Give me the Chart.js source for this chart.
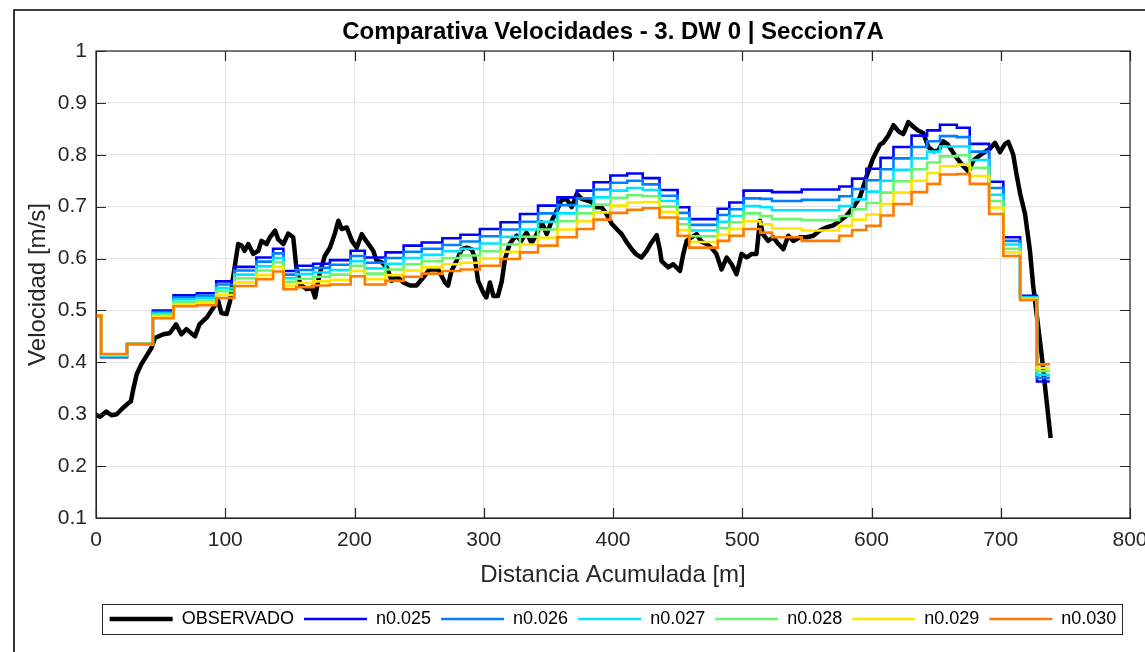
<!DOCTYPE html>
<html>
<head>
<meta charset="utf-8">
<script src="https://cdn.jsdelivr.net/npm/chart.js@4.4.1/dist/chart.umd.min.js"></script>
<style>
  html, body { margin: 0; padding: 0; background: #fff; }
  #wrap { width: 1145px; height: 652px; }
</style>
</head>
<body>
<div id="wrap"><canvas id="myChart" width="1145" height="652"></canvas></div>
<script>
// OBSERVED VELOCITY (black line)
const obsDist = [0, 3, 8, 12, 16, 20, 24, 27, 29, 31.5, 35, 39, 43, 45.6, 52, 57, 62, 66, 70, 76.6,
  80, 85.6, 90.7, 94.6, 97, 101, 103.7, 106, 110, 112.7, 115, 117.8, 121.7, 125.6, 128, 132, 134.6, 138.5,
  141, 145, 148.7, 152.6, 155, 158, 163, 167, 169.5, 173, 177, 181, 185, 187.5, 190, 194, 198, 201.7,
  205.6, 209, 214.5, 217, 221, 225, 228.8, 232.6, 237.7, 243, 248, 253, 258, 264.8, 270, 272.4, 275,
  279, 283, 286.7, 290.6, 293, 295.6, 299.7, 302, 304.8, 307.4, 311, 314, 316.4, 320, 322.9, 325.5,
  329, 333, 337, 341, 344.8, 348.7, 352.6, 356.5, 360, 364, 368, 372, 375.8, 379.6, 383.5, 387, 391,
  395, 399, 402.8, 406.7, 410.5, 414.5, 418, 422, 426, 429, 433.8, 436, 437.6, 442.7, 446.6, 451.8,
  454.4, 457, 460.9, 464.7, 468.6, 472.5, 476, 480, 484, 488, 491.8, 495.6, 499.5, 503.4, 507.3, 511,
  513.7, 516, 520, 524, 528, 531.8, 535.6, 539.5, 544.7, 549.8, 555, 560, 565, 570.5, 575.6, 580.8,
  586, 591, 596, 601, 606.6, 609, 613, 617, 621, 624.6, 628.5, 632, 636, 640, 644, 647.8, 651.7,
  655.5, 659, 665.6, 671, 675, 678.8, 685.5, 691.7, 695.6, 699.4, 703.3, 705.8, 709.7, 712, 715,
  718.8, 722.6, 725, 727.8, 731.6, 735.5, 738.6];
const obsVel = [0.299, 0.295, 0.305, 0.298, 0.300, 0.310, 0.319, 0.325, 0.350, 0.377, 0.396, 0.412, 0.428, 0.447, 0.454, 0.456, 0.473, 0.454, 0.464, 0.450,
  0.473, 0.486, 0.505, 0.518, 0.495, 0.493, 0.518, 0.563, 0.628, 0.625, 0.615, 0.628, 0.609, 0.615, 0.634, 0.628, 0.641, 0.654,
  0.637, 0.628, 0.648, 0.641, 0.583, 0.550, 0.541, 0.544, 0.525, 0.570, 0.605, 0.621, 0.650, 0.673, 0.657, 0.660, 0.634, 0.621,
  0.647, 0.634, 0.615, 0.596, 0.593, 0.583, 0.557, 0.566, 0.554, 0.548, 0.548, 0.563, 0.579, 0.579, 0.554, 0.548, 0.576,
  0.596, 0.618, 0.621, 0.618, 0.602, 0.557, 0.534, 0.525, 0.554, 0.528, 0.528, 0.557, 0.599, 0.628, 0.638, 0.644,
  0.634, 0.650, 0.630, 0.647, 0.670, 0.647, 0.673, 0.692, 0.712, 0.715, 0.699, 0.725, 0.715, 0.712, 0.709, 0.699, 0.699,
  0.686, 0.667, 0.657, 0.647, 0.632, 0.618, 0.608, 0.602, 0.615, 0.628, 0.645, 0.620, 0.595, 0.583, 0.589, 0.576,
  0.609, 0.634, 0.641, 0.647, 0.632, 0.628, 0.621, 0.609, 0.579, 0.602, 0.589, 0.570, 0.609, 0.602, 0.609, 0.609,
  0.673, 0.647, 0.634, 0.641, 0.628, 0.618, 0.644, 0.634, 0.641, 0.641, 0.644, 0.654, 0.660, 0.664, 0.673, 0.683,
  0.699, 0.718, 0.757, 0.792, 0.820, 0.823, 0.837, 0.857, 0.845, 0.840, 0.863, 0.855, 0.847, 0.842, 0.815, 0.807, 0.808,
  0.826, 0.820, 0.795, 0.778, 0.768, 0.789, 0.802, 0.812, 0.823, 0.805, 0.821, 0.825, 0.800, 0.765, 0.725,
  0.686, 0.615, 0.550, 0.492, 0.415, 0.325, 0.254];

// MODEL RUNS (stepped, one value per reach starting at stepDist)
const stepDist = [0, 4, 24, 44, 60, 78, 93, 107, 124, 137, 145, 155, 168, 181, 197, 208, 224, 238, 252, 268,
  282, 297, 313, 328, 342, 357, 372, 385, 398, 411, 423, 436, 450, 459, 481, 490, 501, 514, 523, 546,
  575, 585, 596, 607, 617, 631, 643, 653, 666, 676, 691, 702, 715, 728, 738];
const velN025 = [0.488, 0.410, 0.435, 0.500, 0.529, 0.533, 0.556, 0.584, 0.602, 0.619, 0.576, 0.586, 0.590, 0.597, 0.615, 0.602, 0.612, 0.625, 0.631, 0.639,
  0.646, 0.657, 0.670, 0.686, 0.702, 0.718, 0.731, 0.747, 0.760, 0.764, 0.755, 0.732, 0.699, 0.676, 0.696, 0.708, 0.731, 0.731, 0.728, 0.733,
  0.739, 0.754, 0.773, 0.794, 0.815, 0.837, 0.847, 0.858, 0.852, 0.821, 0.748, 0.641, 0.528, 0.363, 0.363];
const velN026 = [0.488, 0.411, 0.435, 0.497, 0.525, 0.528, 0.550, 0.577, 0.594, 0.610, 0.569, 0.578, 0.582, 0.588, 0.605, 0.592, 0.601, 0.613, 0.619, 0.626,
  0.633, 0.643, 0.656, 0.671, 0.687, 0.703, 0.716, 0.733, 0.746, 0.750, 0.743, 0.721, 0.688, 0.665, 0.684, 0.695, 0.716, 0.715, 0.711, 0.713,
  0.720, 0.734, 0.751, 0.772, 0.793, 0.815, 0.826, 0.836, 0.834, 0.806, 0.736, 0.634, 0.526, 0.370, 0.370];
const velN027 = [0.489, 0.413, 0.435, 0.494, 0.521, 0.524, 0.543, 0.569, 0.585, 0.601, 0.562, 0.570, 0.573, 0.578, 0.595, 0.581, 0.590, 0.601, 0.607, 0.614,
  0.619, 0.629, 0.642, 0.656, 0.671, 0.687, 0.701, 0.718, 0.731, 0.736, 0.732, 0.711, 0.677, 0.654, 0.671, 0.682, 0.701, 0.699, 0.693, 0.693,
  0.701, 0.714, 0.729, 0.750, 0.771, 0.793, 0.806, 0.816, 0.816, 0.790, 0.723, 0.627, 0.525, 0.376, 0.376];
const velN028 = [0.489, 0.414, 0.435, 0.491, 0.516, 0.519, 0.537, 0.562, 0.577, 0.593, 0.555, 0.561, 0.565, 0.569, 0.586, 0.571, 0.579, 0.589, 0.595, 0.601,
  0.606, 0.614, 0.627, 0.642, 0.656, 0.672, 0.687, 0.704, 0.717, 0.722, 0.720, 0.700, 0.666, 0.643, 0.659, 0.670, 0.687, 0.682, 0.676, 0.674,
  0.682, 0.695, 0.707, 0.727, 0.749, 0.772, 0.785, 0.797, 0.799, 0.775, 0.711, 0.619, 0.523, 0.383, 0.383];
const velN029 = [0.490, 0.415, 0.435, 0.488, 0.512, 0.515, 0.530, 0.554, 0.568, 0.584, 0.548, 0.553, 0.556, 0.559, 0.576, 0.560, 0.568, 0.577, 0.583, 0.589,
  0.592, 0.600, 0.613, 0.627, 0.640, 0.656, 0.672, 0.689, 0.702, 0.708, 0.709, 0.690, 0.655, 0.632, 0.646, 0.657, 0.672, 0.666, 0.658, 0.654,
  0.663, 0.675, 0.685, 0.705, 0.727, 0.750, 0.765, 0.778, 0.781, 0.759, 0.698, 0.612, 0.522, 0.389, 0.389];
const velN030 = [0.490, 0.416, 0.435, 0.485, 0.508, 0.510, 0.524, 0.547, 0.560, 0.575, 0.541, 0.545, 0.548, 0.550, 0.566, 0.550, 0.557, 0.565, 0.571, 0.576,
  0.579, 0.586, 0.599, 0.612, 0.625, 0.641, 0.657, 0.675, 0.688, 0.694, 0.697, 0.679, 0.644, 0.621, 0.634, 0.644, 0.657, 0.650, 0.641, 0.634,
  0.644, 0.655, 0.663, 0.683, 0.705, 0.728, 0.744, 0.762, 0.763, 0.744, 0.686, 0.605, 0.520, 0.396, 0.396];

const modelLabels = ['n0.025', 'n0.026', 'n0.027', 'n0.028', 'n0.029', 'n0.030'];
const modelValues = [velN025, velN026, velN027, velN028, velN029, velN030];
const modelColors = ['#0000ff', '#0080ff', '#00e5ff', '#6cf56c', '#ffe600', '#ff7a00'];

const xTicksMax = 800;
const yTicksMin = 0.1;
const yTicksMax = 1;

const toPoints = (xs, ys) => xs.map((x, i) => ({ x: x, y: ys[i] }));

Chart.defaults.font.family = '"Liberation Sans", Arial, Helvetica, sans-serif';
Chart.defaults.color = '#262626';

const datasets = [{
  label: 'OBSERVADO',
  data: toPoints(obsDist, obsVel),
  borderColor: '#000',
  borderWidth: 4.5,
  pointRadius: 0,
  pointBorderWidth: 4.5,
  pointBorderColor: '#000',
  borderJoinStyle: 'round',
  order: 7
}];

modelLabels.forEach((label, i) => {
  datasets.push({
    label: label,
    data: toPoints(stepDist, modelValues[i]),
    borderColor: modelColors[i],
    borderWidth: 2.6,
    pointRadius: 0,
    pointBorderWidth: 2.6,
    pointBorderColor: modelColors[i],
    stepped: true,
    order: 6 - i
  });
});

// matlab style box, inward ticks, figure frame, legend border
const matlabLook = {
  id: 'matlabLook',
  beforeDraw(chart) {
    const ctx = chart.ctx;
    ctx.save();
    ctx.fillStyle = '#fff';
    ctx.fillRect(0, 0, chart.width, chart.height);
    ctx.strokeStyle = '#000';
    ctx.lineWidth = 1.6;
    ctx.beginPath();
    ctx.moveTo(14, chart.height);
    ctx.lineTo(14, 10);
    ctx.lineTo(chart.width, 10);
    ctx.stroke();
    ctx.restore();
  },
  afterDatasetsDraw(chart) {
    const ctx = chart.ctx;
    const a = chart.chartArea;
    const xs = chart.scales.x, ys = chart.scales.y;
    ctx.save();
    ctx.strokeStyle = '#262626';
    ctx.lineWidth = 1.2;
    ctx.strokeRect(a.left, a.top, a.right - a.left, a.bottom - a.top);
    ctx.beginPath();
    xs.ticks.forEach(t => {
      const px = Math.round(xs.getPixelForValue(t.value)) + 0.5;
      ctx.moveTo(px, a.bottom); ctx.lineTo(px, a.bottom - 10);
      ctx.moveTo(px, a.top); ctx.lineTo(px, a.top + 10);
    });
    ys.ticks.forEach(t => {
      const py = Math.round(ys.getPixelForValue(t.value)) + 0.5;
      ctx.moveTo(a.left, py); ctx.lineTo(a.left + 10, py);
      ctx.moveTo(a.right, py); ctx.lineTo(a.right - 10, py);
    });
    ctx.stroke();
    ctx.restore();
  },
  afterDraw(chart) {
    const hb = chart.legend.legendHitBoxes;
    if (!hb || !hb.length) return;
    const last = hb[hb.length - 1];
    const left = hb[0].left - 8;
    const right = last.left + last.width + 5;
    const cy = hb[0].top + 9;
    const ctx = chart.ctx;
    ctx.save();
    ctx.strokeStyle = '#262626';
    ctx.lineWidth = 1;
    ctx.strokeRect(Math.round(left) + 0.5, Math.round(cy - 15) + 0.5, Math.round(right - left), 30);
    ctx.restore();
  }
};

new Chart(document.getElementById('myChart'), {
  type: 'line',
  data: { datasets: datasets },
  plugins: [matlabLook],
  options: {
    responsive: false,
    devicePixelRatio: 1,
    animation: false,
    events: [],
    layout: { padding: { left: 0, right: 15, top: 0, bottom: 14 } },
    plugins: {
      title: {
        display: true,
        fullSize: false,
        text: 'Comparativa Velocidades - 3. DW 0 | Seccion7A',
        color: '#000',
        font: { size: 24, weight: 'bold' },
        padding: { top: 17.6, bottom: 4.6 }
      },
      legend: {
        position: 'bottom',
        fullSize: false,
        labels: {
          usePointStyle: true,
          pointStyle: 'line',
          pointStyleWidth: 63,
          color: '#000',
          font: { size: 18 },
          padding: 10,
          sort: (a, b) => a.datasetIndex - b.datasetIndex
        }
      },
      tooltip: { enabled: false }
    },
    scales: {
      x: {
        type: 'linear',
        min: 0,
        max: xTicksMax,
        ticks: { stepSize: 100, font: { size: 21 }, color: '#262626', padding: 10 },
        grid: { color: '#e3e3e3', drawTicks: false },
        border: { display: true, color: '#262626' },
        title: {
          display: true,
          text: 'Distancia Acumulada [m]',
          font: { size: 24 },
          color: '#262626',
          padding: { top: 0, bottom: 10.6 }
        },
        afterFit(s) { s.height = 82; s.paddingRight = 0; }
      },
      y: {
        type: 'linear',
        min: yTicksMin,
        max: yTicksMax,
        ticks: {
          stepSize: 0.1,
          font: { size: 21 },
          color: '#262626',
          padding: 9,
          callback: v => String(+v.toFixed(2))
        },
        grid: { color: '#e3e3e3', drawTicks: false },
        border: { display: true, color: '#262626' },
        title: {
          display: true,
          text: 'Velocidad [m/s]',
          font: { size: 24 },
          color: '#262626',
          padding: { top: 23.6, bottom: 0 }
        },
        afterFit(s) { s.width = 96; }
      }
    }
  }
});
</script>
</body>
</html>
